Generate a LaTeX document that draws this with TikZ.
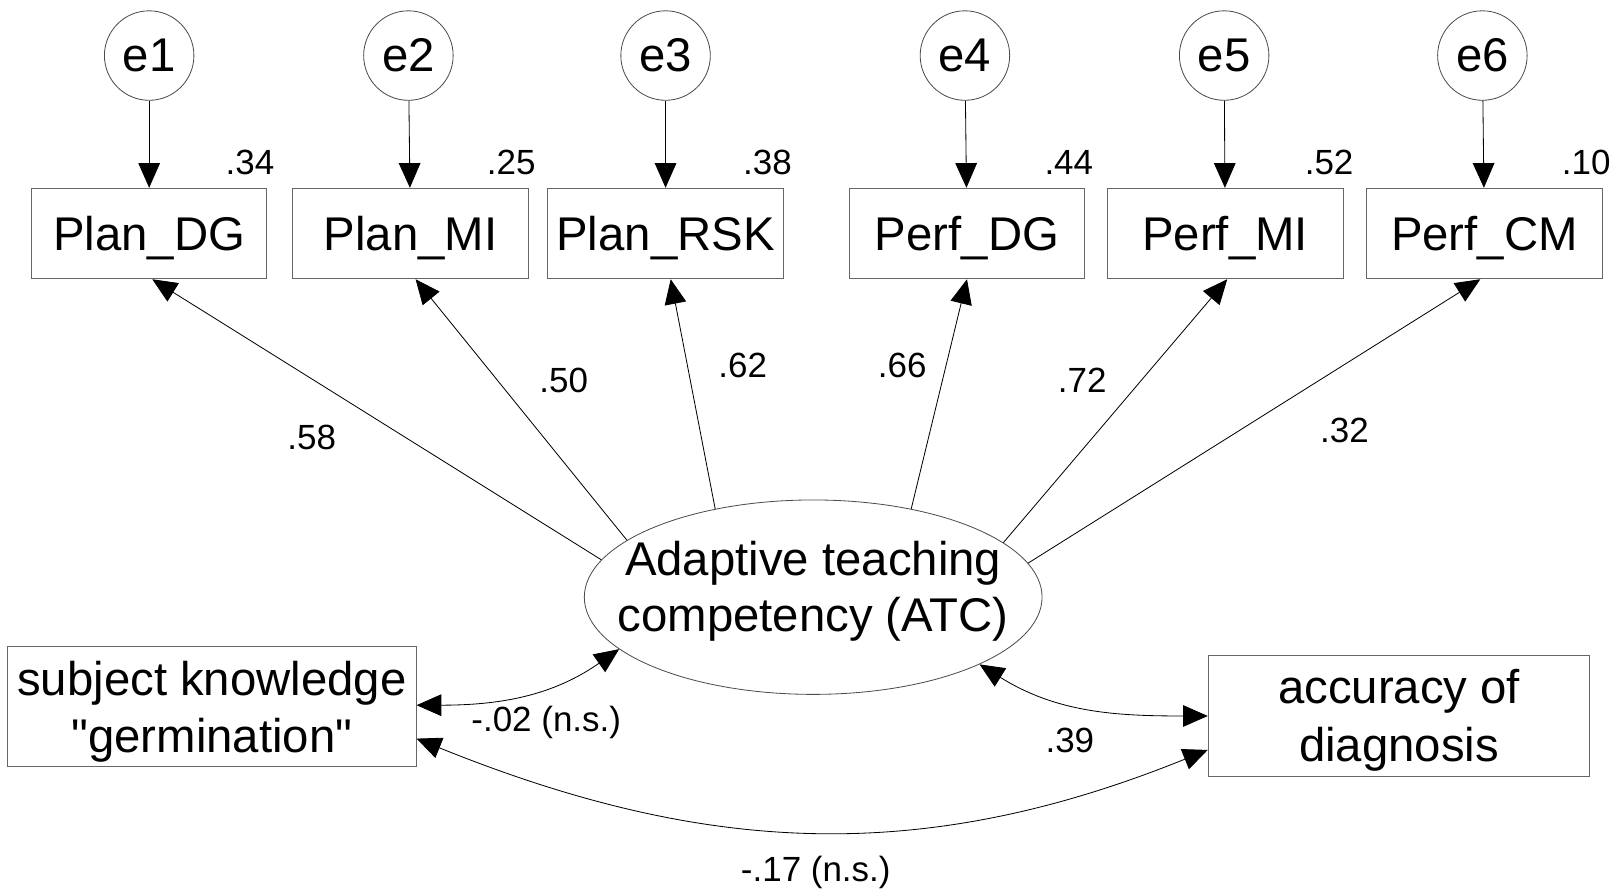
\documentclass[tikz,border=0pt]{standalone}
\usepackage{fontspec}
\setmainfont{Liberation Sans}[Ligatures=TeXOff]
\usetikzlibrary{arrows.meta,shapes.geometric}
\begin{document}
\begin{tikzpicture}[x=1pt,y=1pt,
  obs/.style={draw=black!60, line width=0.9pt, minimum width=229pt, minimum height=88pt, inner sep=0pt, text height=33pt, text depth=0pt, font=\fontsize{46}{55}\selectfont},
  big/.style={draw=black!60, line width=0.9pt, inner sep=0pt},
  txt/.style={inner sep=0pt, align=center, font=\fontsize{46}{55}\selectfont},
  err/.style={circle, draw=black!70, line width=0.8pt, minimum size=87pt, inner sep=0pt, font=\fontsize{46}{55}\selectfont},
  num/.style={font=\fontsize{34}{40}\selectfont, inner sep=0pt},
  load/.style={line width=0.8pt, -{Triangle[length=24pt,width=21pt]}},
  covar/.style={line width=0.8pt, {Triangle[length=24pt,width=21pt]}-{Triangle[length=24pt,width=21pt]}},
]
\useasboundingbox (0,0) rectangle (1568,-865);

% error terms
\node[err] (e1) at (145,-54) {e1};
\node[err] (e2) at (397,-54) {e2};
\node[err] (e3) at (647,-54) {e3};
\node[err] (e4) at (938,-54) {e4};
\node[err] (e5) at (1190,-54) {e5};
\node[err] (e6) at (1441,-54) {e6};

% indicators
\node[obs] (b1) at (145,-227) {Plan\_DG};
\node[obs] (b2) at (399,-227) {Plan\_MI};
\node[obs] (b3) at (647,-227) {Plan\_RSK};
\node[obs] (b4) at (940,-227) {Perf\_DG};
\node[obs] (b5) at (1191,-227) {Perf\_MI};
\node[obs] (b6) at (1443,-227) {Perf\_CM};

% R^2
\node[num] (r1) at (243,-158) {.34};
\node[num] (r2) at (497,-158) {.25};
\node[num] (r3) at (746,-158) {.38};
\node[num] (r4) at (1039,-158) {.44};
\node[num] (r5) at (1292,-158) {.52};
\node[num] (r6) at (1542,-158) {.10};

\foreach \i in {1,...,6} \draw[load] (e\i) -- (b\i);

% latent
\node[ellipse, draw=black!70, line width=0.8pt, minimum width=445pt, minimum height=189pt, inner sep=0pt] (atc) at (790.5,-580.5) {};
\node[txt, font=\fontsize{46}{54}\selectfont] (atct) at (790.5,-575) {Adaptive teaching\\competency (ATC)};

% other variables
\node[big, minimum width=397pt, minimum height=117pt] (sk) at (206,-686.5) {};
\node[txt] (skt) at (206,-692) {subject knowledge\\"germination"};
\node[big, minimum width=371pt, minimum height=118pt] (ae) at (1360,-696) {};
\node[txt, font=\fontsize{46}{56}\selectfont] (aet) at (1360,-700) {accuracy of\\diagnosis};

% loadings
\draw[load] (atc.170.4) -- ([xshift=3pt]b1.south);
\draw[load] (atc.163.1) -- ([xshift=5pt]b2.south);
\draw[load] (atc.138.2) -- ([xshift=5pt]b3.south);
\draw[load] (atc.42.2) -- (b4.south);
\draw[load] (atc.16.9) -- ([xshift=2pt]b5.south);
\draw[load] (atc.9.5) -- ([xshift=-4pt]b6.south);

\node[num] (l1) at (303,-425) {.58};
\node[num] (l2) at (548,-370) {.50};
\node[num] (l3) at (722,-355) {.62};
\node[num] (l4) at (877,-355) {.66};
\node[num] (l5) at (1052,-370) {.72};
\node[num] (l6) at (1307,-418) {.32};

% covariances
\draw[covar] ([yshift=1pt]sk.east) to[out=0,in=-145] (atc.195.7);
\draw[covar] (atc.-22.6) to[out=-32,in=180] (ae.west);
\draw[covar] ([yshift=-31.5pt]sk.east) to[out=-22,in=-158] ([yshift=-33pt]ae.west);

\node[num] (c1) at (531,-702) {-.02 (n.s.)};
\node[num] (c2) at (1040,-720) {.39};
\node[num] (c3) at (793,-848) {-.17 (n.s.)};
\end{tikzpicture}
\end{document}
